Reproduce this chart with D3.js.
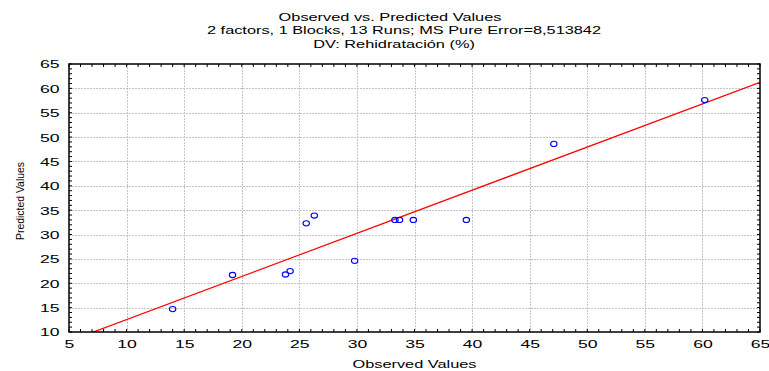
<!DOCTYPE html>
<html>
<head>
<meta charset="utf-8">
<script src="https://cdn.jsdelivr.net/npm/d3@7"></script>
<style>
  body { margin: 0; background: #fff; }
  text { font-family: "Liberation Sans", Arial, sans-serif; fill: #000; }
</style>
</head>
<body>
<div class="chart"></div>
<script>
// data
const observed  = [14.0, 19.2, 23.8, 24.2, 25.6, 26.3, 29.8, 33.3, 33.7, 34.9, 39.5, 47.1, 60.2];
const predicted = [14.7, 21.7, 21.8, 22.5, 32.3, 33.9, 24.6, 33.0, 33.0, 33.0, 33.0, 48.6, 57.6];
const fitLine = [3.70, 0.885]; // intercept, slope
const xTickValues = [5, 10, 15, 20, 25, 30, 35, 40, 45, 50, 55, 60, 65];
const yTickValues = [10, 15, 20, 25, 30, 35, 40, 45, 50, 55, 60, 65];
const titleLines = [
  "Observed vs. Predicted Values",
  "2 factors, 1 Blocks, 13 Runs; MS Pure Error=8,513842",
  "DV: Rehidratación (%)"
];
const xLabel = "Observed Values";
const yLabel = "Predicted Values";

const W = 769, H = 371;
const margin = { top: 64, right: 9, bottom: 39, left: 69 };
const w = W - margin.left - margin.right;
const h = H - margin.top - margin.bottom;
const sx = 1.42;  // the picture is stretched sideways
const sxt = 1.6;  // tick labels

const svg = d3.select(".chart").append("svg")
  .attr("width", W)
  .attr("height", H);

const g = svg.append("g")
  .attr("transform", "translate(" + margin.left + "," + margin.top + ")");

const x = d3.scaleLinear().domain([5, 65]).range([0, w]);
const y = d3.scaleLinear().domain([10, 65]).range([h, 0]);

// grid
g.append("g").selectAll("line")
  .data(xTickValues.slice(1, -1))
  .enter().append("line")
  .attr("x1", d => Math.round(x(d)) + 0.5).attr("x2", d => Math.round(x(d)) + 0.5)
  .attr("y1", 0).attr("y2", h)
  .attr("stroke", "#c4c4c4").attr("stroke-dasharray", "2,1");
g.append("g").selectAll("line")
  .data(yTickValues.slice(1, -1))
  .enter().append("line")
  .attr("y1", d => Math.round(y(d)) + 0.5).attr("y2", d => Math.round(y(d)) + 0.5)
  .attr("x1", 0).attr("x2", w)
  .attr("stroke", "#c4c4c4").attr("stroke-dasharray", "2,1");

// minor ticks on all sides, inside
const xMinor = d3.range(5, 65.01, 1), yMinor = d3.range(10, 65.01, 1);
const ticks = g.append("g").attr("stroke", "#000").attr("stroke-width", 1);
ticks.selectAll(".tb").data(xMinor).enter().append("line")
  .attr("x1", d => x(d)).attr("x2", d => x(d)).attr("y1", h).attr("y2", h - 3);
ticks.selectAll(".tt").data(xMinor).enter().append("line")
  .attr("x1", d => x(d)).attr("x2", d => x(d)).attr("y1", 0).attr("y2", 3);
ticks.selectAll(".tl").data(yMinor).enter().append("line")
  .attr("y1", d => y(d)).attr("y2", d => y(d)).attr("x1", 0).attr("x2", 3);
ticks.selectAll(".tr").data(yMinor).enter().append("line")
  .attr("y1", d => y(d)).attr("y2", d => y(d)).attr("x1", w).attr("x2", w - 3);

// axes (labels only, frame drawn separately)
const xAxis = g.append("g")
  .attr("transform", "translate(0," + h + ")")
  .call(d3.axisBottom(x).tickValues(xTickValues).tickSize(0).tickPadding(0));
xAxis.select(".domain").remove();
xAxis.selectAll("text")
  .attr("font-size", 11)
  .attr("font-family", "Liberation Sans, Arial, sans-serif")
  .attr("y", 16.5).attr("dy", 0)
  .attr("transform", "scale(" + sxt + ",1)");

const yAxis = g.append("g")
  .call(d3.axisLeft(y).tickValues(yTickValues).tickSize(0).tickPadding(0));
yAxis.select(".domain").remove();
yAxis.selectAll("text")
  .attr("font-size", 11)
  .attr("font-family", "Liberation Sans, Arial, sans-serif")
  .attr("x", -9.5 / sxt).attr("dy", "0.36em")
  .attr("transform", "scale(" + sxt + ",1)");

// fit line
svg.append("clipPath").attr("id", "clip")
  .append("rect").attr("width", w).attr("height", h);
g.append("line")
  .attr("clip-path", "url(#clip)")
  .attr("x1", x(5)).attr("y1", y(fitLine[0] + fitLine[1] * 5))
  .attr("x2", x(65)).attr("y2", y(fitLine[0] + fitLine[1] * 65))
  .attr("stroke", "#ff0000").attr("stroke-width", 1.2);

// points
g.selectAll(".dot")
  .data(observed)
  .enter().append("ellipse")
  .attr("class", "dot")
  .attr("cx", d => x(d))
  .attr("cy", (d, i) => y(predicted[i]))
  .attr("rx", 3.2).attr("ry", 2.6)
  .attr("fill", "none")
  .attr("stroke", "#0000ff")
  .attr("stroke-width", 1.1);

// frame
g.append("rect")
  .attr("width", w).attr("height", h)
  .attr("fill", "none").attr("stroke", "#000").attr("stroke-width", 1.5);

// titles (each line sits a little differently in the original)
const titleX = [390, 404, 394];
svg.append("g").selectAll("text")
  .data(titleLines)
  .enter().append("text")
  .attr("transform", (d, i) => "translate(" + titleX[i] + "," + (20.5 + i * 13.7) + ") scale(" + sx + ",1)")
  .attr("text-anchor", "middle")
  .attr("font-size", 11.5)
  .text(d => d);

svg.append("text")
  .attr("transform", "translate(" + (margin.left + w / 2) + ",368) scale(" + sx + ",1)")
  .attr("text-anchor", "middle")
  .attr("font-size", 11.5)
  .text(xLabel);

svg.append("text")
  .attr("transform", "translate(24,201) rotate(-90)")
  .attr("text-anchor", "middle")
  .attr("font-size", 10)
  .attr("textLength", 78)
  .attr("lengthAdjust", "spacingAndGlyphs")
  .text(yLabel);
</script>
</body>
</html>
